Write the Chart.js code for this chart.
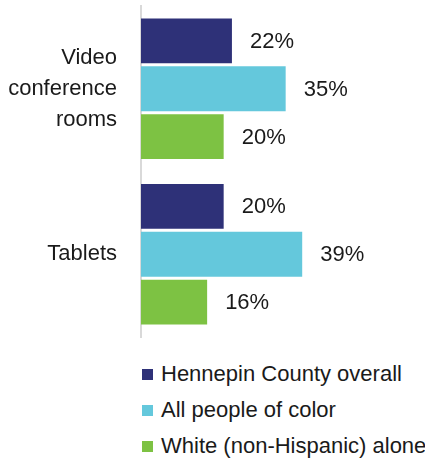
<!DOCTYPE html>
<html>
<head>
<meta charset="utf-8">
<script src="https://cdn.jsdelivr.net/npm/chart.js@4.4.0/dist/chart.umd.min.js"></script>
<style>
  body { margin: 0; background: #fff; }
  #legend { margin-top: 12px; padding-left: 142px; font-family: 'Liberation Sans', Arial, sans-serif; font-size: 22px; color: #1a1a1a; }
  .item { display: flex; align-items: center; height: 36px; white-space: nowrap; }
  .box { flex: 0 0 11px; width: 11px; height: 11px; margin-right: 8px; }
</style>
</head>
<body>
<canvas id="myBars" width="425" height="344"></canvas>
<div id="legend"></div>
<script>
var categories = [['Video', 'conference', 'rooms'], 'Tablets'];
var seriesNames = ['Hennepin County overall', 'All people of color', 'White (non-Hispanic) alone'];
var overall = [22, 20];
var peopleOfColor = [35, 39];
var whiteAlone = [20, 16];
var colors = ['#2e3178', '#64c8dc', '#7dc243'];

var fontFamily = "'Liberation Sans', Arial, sans-serif";

// draws the % labels to the right of each bar
var valueLabels = {
    id: 'valueLabels',
    afterDatasetsDraw: function(chart) {
        var c = chart.ctx;
        c.save();
        c.font = '22px ' + fontFamily;
        c.fillStyle = '#1a1a1a';
        c.textAlign = 'left';
        c.textBaseline = 'middle';
        chart.data.datasets.forEach(function(ds, i) {
            chart.getDatasetMeta(i).data.forEach(function(bar, j) {
                c.fillText(ds.data[j] + '%', bar.x + 18, bar.y + 1);
            });
        });
        c.restore();
    }
};

var ctx = document.getElementById('myBars');
var myBars = new Chart(ctx, {
    type: 'bar',
    data: {
        labels: categories,
        datasets: [
            { label: seriesNames[0], data: overall, backgroundColor: colors[0] },
            { label: seriesNames[1], data: peopleOfColor, backgroundColor: colors[1] },
            { label: seriesNames[2], data: whiteAlone, backgroundColor: colors[2] }
        ]
    },
    options: {
        indexAxis: 'y',
        responsive: false,
        animation: false,
        devicePixelRatio: 1,
        categoryPercentage: 0.867,
        barPercentage: 0.937,
        layout: { padding: { top: 6, bottom: 7, right: 36 } },
        plugins: { legend: { display: false }, tooltip: { enabled: false } },
        scales: {
            x: { display: false, min: 0, max: 60 },
            y: {
                grid: { display: false, drawTicks: false, tickLength: 0 },
                border: { display: true, color: '#d9d9d9', width: 2 },
                ticks: { padding: 24, color: '#1a1a1a', font: { family: fontFamily, size: 22, lineHeight: 1.41 } },
                afterFit: function(scale) {
                    scale.width = 141;
                    scale.paddingTop = 0;
                    scale.paddingBottom = 0;
                }
            }
        }
    },
    plugins: [valueLabels]
});

// legend built from the datasets
var legend = document.getElementById('legend');
myBars.data.datasets.forEach(function(ds) {
    var row = document.createElement('div');
    row.className = 'item';
    var box = document.createElement('span');
    box.className = 'box';
    box.style.background = ds.backgroundColor;
    var txt = document.createElement('span');
    txt.textContent = ds.label;
    row.appendChild(box);
    row.appendChild(txt);
    legend.appendChild(row);
});
</script>
</body>
</html>
